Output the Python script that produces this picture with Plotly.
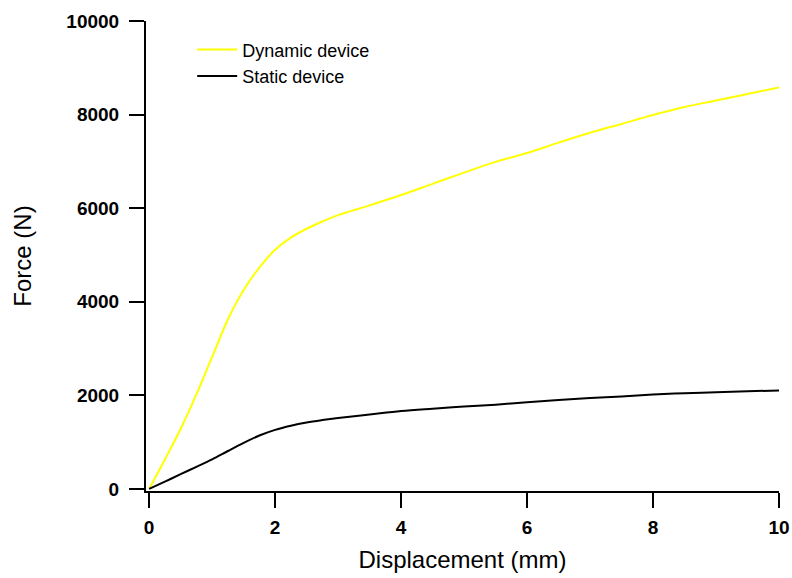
import plotly.graph_objects as go

# displacement (mm)
displacement = [0, 0.25, 0.5, 0.75, 1.0, 1.25, 1.5, 1.75, 2.0, 2.25, 2.5, 2.75, 3.0, 3.5,
                4.0, 4.5, 5.0, 5.5, 6.0, 6.5, 7.0, 7.5, 8.0, 8.5, 9.0, 9.5, 10.0]

# force (N)
dynamic_force = [0, 630, 1280, 2020, 2820, 3620, 4250, 4730, 5110, 5370, 5560, 5715, 5850, 6060,
                 6280, 6520, 6760, 6990, 7180, 7400, 7610, 7800, 7990, 8160, 8300, 8440, 8580]
static_force = [0, 155, 315, 470, 630, 810, 985, 1140, 1262, 1350, 1418, 1470, 1515, 1590,
                1665, 1715, 1760, 1800, 1850, 1900, 1940, 1975, 2015, 2045, 2065, 2085, 2105]

x_ticks = [0, 2, 4, 6, 8, 10]
y_ticks = [0, 2000, 4000, 6000, 8000, 10000]

font_family = "Arial, Liberation Sans, sans-serif"

fig = go.Figure()

fig.add_trace(go.Scatter(
    x=displacement, y=dynamic_force,
    mode='lines', name='Dynamic device',
    line=dict(color='#FFFF00', width=2, shape='spline', smoothing=1.0)
))
fig.add_trace(go.Scatter(
    x=displacement, y=static_force,
    mode='lines', name='Static device',
    line=dict(color='black', width=2, shape='spline', smoothing=1.0)
))

axis_common = dict(
    showline=True, linecolor='black', linewidth=2,
    ticks='outside', ticklen=15, tickwidth=2, tickcolor='black',
    showgrid=False, zeroline=False, automargin=False,
    tickfont=dict(family=font_family, size=19, color='black', weight='bold'),
    title_font=dict(family=font_family, size=24, color='black'),
)

fig.update_layout(
    width=792, height=578,
    plot_bgcolor='white', paper_bgcolor='white',
    margin=dict(l=146, r=13, t=21, b=87),
    xaxis=dict(range=[-0.05, 10], tickvals=x_ticks, title=dict(text='Displacement (mm)', standoff=14),
               ticklabelstandoff=3, **axis_common),
    yaxis=dict(range=[-45, 10000], tickvals=y_ticks, tickformat='d',
               title=dict(text='Force (N)', standoff=28),
               ticklabelstandoff=6, **axis_common),
    legend=dict(x=0.073, y=0.978, xanchor='left', yanchor='top', bgcolor='rgba(0,0,0,0)',
                font=dict(family=font_family, size=18, color='black'),
                tracegroupgap=0, itemwidth=40),
    showlegend=True,
)

# drop the default page margin so the figure fills the window
fig.write_html("out.html", config={'displayModeBar': False},
               post_script="document.body.style.margin='0';")
